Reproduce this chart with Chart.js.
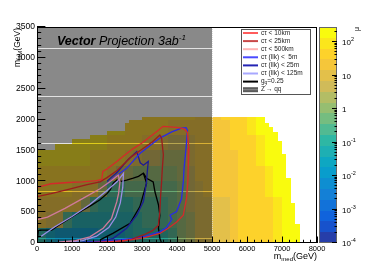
<!DOCTYPE html>
<html>
<head>
<meta charset="utf-8">
<script src="https://cdn.jsdelivr.net/npm/chart.js"></script>
<style>
    html, body { margin: 0; padding: 0; background: #fff; }
    #wrap { width: 374px; height: 270px; }
</style>
</head>
<body>
<div id="wrap"><canvas id="chart" width="374" height="270"></canvas></div>
<script>
// axis ranges
const xRange = [0, 8000];
const yRange = [0, 3500];
const muRange = [1e-4, Math.pow(10, 2.45)];
const zShadeMax = 5000; // Z' -> qq excluded m_med

// heatmap envelope: top of filled bins, one value per 125 GeV of m_med
const colWidth = 125;
const colTop = [
    1500, 1500, 1500, 1500, 1600, 1600, 1600, 1600,
    1680, 1680, 1680, 1680, 1750, 1750, 1750, 1750,
    1820, 1820, 1820, 1820, 1940, 2000, 2000, 2000,
    2040, 2040, 2040, 2040, 2040, 2040, 2040, 2040,
    2040, 2040, 2040, 2040, 2040, 2040, 2040, 2040,
    2040, 2040, 2040, 2040, 2040, 2040, 2040, 2040,
    2040, 2040, 2040, 2040, 1950, 1880, 1800, 1650,
    1450, 1050, 650, 300, 0, 0, 0, 0
];

// log10(mu), cells of 250 x 250 GeV, bottom row first
const cellW = 250, cellH = 250;
const logMu = [
    [-1.0, -1.6, -2.0, -2.0, -1.8, -1.8, -1.8, -1.7, -1.6, -1.5, -1.3, -1.0, -1.0, -0.9, -0.8, -0.5, -0.1, 0.4, 0.9, 1.0, 1.0, 1.1, 1.2, 1.55, 1.6, 1.65, 1.8, 2.1, 2.2, 2.3, 2.3, 2.3],
    [1.2, 1.1, 0.9, -0.6, -1.1, -1.3, -1.3, -1.3, -1.2, -1.2, -1.1, -0.9, -0.7, -0.7, -0.7, -0.4, 0.0, 0.5, 1.0, 1.1, 1.0, 1.1, 1.2, 1.5, 1.6, 1.65, 1.75, 2.1, 2.2, 2.35, 2.3, 2.3],
    [1.3, 1.3, 1.3, 1.3, 1.2, 0.5, -0.6, -0.9, -1.0, -1.0, -0.8, -0.6, -0.5, -0.5, -0.5, -0.3, 0.1, 0.6, 1.1, 1.1, 1.1, 1.15, 1.3, 1.5, 1.6, 1.7, 1.8, 2.1, 2.25, 2.35, 2.3, 2.3],
    [1.5, 1.5, 1.5, 1.5, 1.4, 1.4, 1.2, 0.5, -0.5, -0.6, -0.4, -0.4, -0.3, -0.3, -0.2, -0.2, 0.1, 0.6, 1.1, 1.2, 1.2, 1.2, 1.3, 1.55, 1.65, 1.7, 2.05, 2.2, 2.3, 2.35, 2.3, 2.3],
    [1.8, 1.8, 1.8, 1.8, 1.7, 1.7, 1.6, 1.5, 1.2, 0.7, 0.3, 0.1, 0.1, 0.1, 0.0, 0.0, 0.2, 0.7, 1.2, 1.2, 1.3, 1.3, 1.35, 1.6, 1.65, 1.75, 2.1, 2.25, 2.35, 2.35, 2.3, 2.3],
    [1.9, 1.9, 1.9, 1.9, 1.9, 1.9, 1.8, 1.7, 1.6, 1.5, 1.3, 1.0, 0.7, 0.6, 0.5, 0.4, 0.5, 0.9, 1.2, 1.3, 1.35, 1.35, 1.4, 1.6, 1.7, 2.0, 2.2, 2.3, 2.35, 2.35, 2.35, 2.35],
    [1.9, 1.9, 1.9, 1.9, 1.9, 1.9, 1.85, 1.85, 1.8, 1.8, 1.6, 1.5, 1.4, 1.2, 1.0, 0.8, 0.8, 1.1, 1.3, 1.3, 1.35, 1.4, 1.55, 1.65, 1.7, 2.1, 2.2, 2.3, 2.35, 2.35, 2.35, 2.35],
    [1.9, 1.9, 1.9, 1.9, 1.9, 1.9, 1.85, 1.85, 1.85, 1.85, 1.7, 1.7, 1.7, 1.7, 1.5, 1.4, 1.3, 1.3, 1.3, 1.3, 1.35, 1.45, 1.6, 1.65, 2.0, 2.2, 2.3, 2.35, 2.35, 2.35, 2.35, 2.35],
    [1.9, 1.9, 1.9, 1.9, 1.9, 1.9, 1.9, 1.9, 1.9, 1.9, 1.8, 1.8, 1.8, 1.8, 1.6, 1.6, 1.6, 1.6, 1.4, 1.4, 1.35, 1.5, 1.6, 1.65, 2.1, 2.2, 2.3, 2.35, 2.35, 2.35, 2.35, 2.35]
];

// exclusion contours [m_med, m_DM]
const ctau10km = [[0, 900], [400, 960], [900, 980], [1300, 990], [1700, 1010], [1850, 1030], [1880, 1160], [2000, 1200], [2280, 1320], [2500, 1420], [2750, 1530], [3000, 1620], [3230, 1720], [3450, 1820], [3600, 1890], [3800, 1880], [4050, 1870], [4200, 1850], [4300, 1790], [4340, 1530], [4320, 1200], [4310, 990], [4270, 720], [4180, 450], [3990, 340], [3750, 240], [3510, 155], [3100, 90], [2750, 55], [2300, 30], [1800, 15], [1500, 5]];
const ctau25km = [[0, 750], [400, 800], [900, 870], [1400, 940], [1800, 990], [2000, 1060], [2300, 1180], [2700, 1400], [3000, 1520], [3300, 1640], [3510, 1750], [3560, 1700], [3610, 1430], [3580, 1200], [3560, 990], [3530, 750], [3510, 510], [3470, 290], [3300, 200], [3040, 130], [2700, 60], [2370, 20], [2000, 8]];
const ctau500km = [[0, 380], [300, 420], [800, 560], [1300, 720], [1800, 880], [2100, 1000], [2320, 1100], [2370, 990], [2330, 800], [2280, 670], [2130, 400], [1890, 240], [1510, 100], [1100, 40], [600, 12]];
const llk5m = [[1950, 930], [2180, 1050], [2560, 1210], [2940, 1450], [3230, 1580], [3510, 1700], [3850, 1800], [4130, 1860], [4260, 1870], [4300, 1830], [4260, 1540], [4200, 1200], [4180, 990], [4130, 720], [3990, 510], [3800, 450], [3850, 380], [3700, 250], [3510, 180], [3100, 110], [2750, 75], [2300, 45], [1800, 20], [1300, 8]];
const llk25m = [[2000, 1000], [2300, 1150], [2600, 1350], [2850, 1480], [2950, 1300], [3040, 1260], [3180, 1320], [3150, 1150], [3130, 990], [3040, 670], [2850, 450], [2560, 240], [2180, 75], [1700, 20], [1200, 5]];
const llk125m = [[100, 100], [500, 260], [1000, 430], [1500, 620], [2000, 850], [2300, 1000], [2470, 1130], [2450, 900], [2380, 650], [2250, 420], [2050, 250], [1700, 110], [1300, 40], [800, 10]];
const gq025 = [[0, 0], [40, 200], [86, 210], [420, 210], [600, 280], [850, 370], [1100, 460], [1320, 535], [1550, 610], [1800, 700], [2000, 800], [2090, 860], [2180, 970], [2280, 1020], [2400, 1000], [2560, 1020], [2750, 1050], [2900, 1080], [3040, 1130], [3130, 1050], [3320, 990], [3370, 830], [3470, 620], [3510, 450], [3470, 240], [3510, 75], [3560, 0]];
const gq025Inner = [[3040, 1130], [3130, 970], [2940, 590], [2660, 320], [2180, 160], [1800, 50]];

const muTicks = [-4, -3, -2, -1, 0, 1, 2];

// ---- ROOT kBird palette, 20 contour levels ----
const bird = {
    r: [0.2082, 0.0592, 0.0780, 0.0232, 0.1802, 0.5301, 0.8186, 0.9956, 0.9764],
    g: [0.1664, 0.3599, 0.5041, 0.6419, 0.7178, 0.7492, 0.7328, 0.7862, 0.9832],
    b: [0.5293, 0.8684, 0.8385, 0.7914, 0.6425, 0.4662, 0.3499, 0.1968, 0.0539]
};
const nLevels = 20;

function birdColor(t) {
    t = Math.max(0, Math.min(1, t));
    const i = Math.min(7, Math.floor(t * 8));
    const f = t * 8 - i;
    const c = k => Math.round(255 * (bird[k][i] + f * (bird[k][i + 1] - bird[k][i])));
    return `rgb(${c("r")},${c("g")},${c("b")})`;
}

function levelColor(lv) {
    const lo = Math.log10(muRange[0]), hi = Math.log10(muRange[1]);
    let k = Math.floor((lv - lo) / (hi - lo) * nLevels);
    k = Math.max(0, Math.min(nLevels - 1, k));
    return birdColor((k + 0.99) / nLevels);
}

const FONT = '"Liberation Sans", Arial, Helvetica, sans-serif';

function drawRich(ctx, parts, x, y) {
    parts.forEach(p => {
        ctx.font = p.font;
        ctx.fillText(p.text, x, y + (p.dy || 0));
        x += ctx.measureText(p.text).width;
    });
    return x;
}

function richWidth(ctx, parts) {
    return parts.reduce((w, p) => {
        ctx.font = p.font;
        return w + ctx.measureText(p.text).width;
    }, 0);
}

const rootStyle = {
    id: "rootStyle",
    beforeDatasetsDraw(chart) {
        const {ctx, chartArea: a, scales: {x, y}} = chart;
        ctx.save();
        ctx.beginPath();
        ctx.rect(a.left, a.top, a.right - a.left, a.bottom - a.top);
        ctx.clip();

        // heatmap cells
        colTop.forEach((top, i) => {
            const x0 = i * colWidth, x1 = x0 + colWidth;
            const c = Math.floor(x0 / cellW);
            const px0 = Math.round(x.getPixelForValue(x0));
            const px1 = Math.round(x.getPixelForValue(x1));
            logMu.forEach((row, r) => {
                const y0 = r * cellH, y1 = Math.min(y0 + cellH, top);
                if (y1 <= y0) return;
                const py0 = Math.round(y.getPixelForValue(y0));
                const py1 = Math.round(y.getPixelForValue(y1));
                ctx.fillStyle = levelColor(row[c]);
                ctx.fillRect(px0, py1, px1 - px0, py0 - py1);
            });
        });

        // Z' -> qq shaded box, with the thin light rows of the fill pattern
        const sx0 = Math.round(x.getPixelForValue(xRange[0]));
        const sx1 = Math.round(x.getPixelForValue(zShadeMax));
        const gaps = [3155, 2387, 1620, 843, 76].map(v => Math.round(y.getPixelForValue(v)));
        let yy = Math.floor(a.top);
        ctx.fillStyle = "rgba(20,20,20,0.5)";
        gaps.forEach(g => {
            ctx.fillRect(sx0, yy, sx1 - sx0, g - yy);
            yy = g + 1;
        });
        ctx.fillRect(sx0, yy, sx1 - sx0, Math.ceil(a.bottom) - yy);
        ctx.fillStyle = "rgba(20,20,20,0.12)";
        gaps.forEach(g => ctx.fillRect(sx0, g, sx1 - sx0, 1));

        ctx.strokeStyle = "rgba(215,215,215,0.8)";
        ctx.lineWidth = 1;
        ctx.setLineDash([1, 1]);
        ctx.beginPath();
        ctx.moveTo(sx1 + 0.5, a.top);
        ctx.lineTo(sx1 + 0.5, a.bottom);
        ctx.stroke();
        ctx.restore();
    },

    afterDatasetsDraw(chart) {
        const {ctx, chartArea: a, scales: {x, y, z}} = chart;
        ctx.save();

        // frame
        ctx.strokeStyle = "#000";
        ctx.lineWidth = 1;
        ctx.strokeRect(a.left + 0.5, a.top + 0.5, a.right - a.left - 1, a.bottom - a.top - 1);

        // inward ticks
        const h = a.bottom - a.top, w = a.right - a.left;
        ctx.beginPath();
        for (let v = xRange[0]; v <= xRange[1]; v += 200) {
            const px = Math.round(x.getPixelForValue(v)) + 0.5;
            const len = v % 1000 === 0 ? 0.03 * h : 0.015 * h;
            ctx.moveTo(px, a.bottom);
            ctx.lineTo(px, a.bottom - len);
        }
        for (let v = yRange[0]; v <= yRange[1]; v += 100) {
            const py = Math.round(y.getPixelForValue(v)) - 0.5;
            const len = v % 500 === 0 ? 0.03 * w : 0.015 * w;
            ctx.moveTo(a.left, py);
            ctx.lineTo(a.left + len, py);
        }
        ctx.stroke();

        // title
        ctx.fillStyle = "#000";
        ctx.textBaseline = "alphabetic";
        ctx.textAlign = "left";
        drawRich(ctx, [
            {text: "Vector", font: `italic bold 12.5px ${FONT}`},
            {text: " Projection 3ab", font: `italic 12.5px ${FONT}`},
            {text: "-1", font: `italic 8px ${FONT}`, dy: -5}
        ], 57, 45);

        // colour bar
        const cbL = a.right + 2, cbR = a.right + 20;
        const zPix = v => z ? z.getPixelForValue(v) : a.bottom - (Math.log10(v) + 4) / 6.45 * h;
        const lo = Math.log10(muRange[0]), hi = Math.log10(muRange[1]);
        for (let k = 0; k < nLevels; k++) {
            const v0 = Math.pow(10, lo + (hi - lo) * k / nLevels);
            const v1 = Math.pow(10, lo + (hi - lo) * (k + 1) / nLevels);
            const p0 = Math.round(zPix(v0)), p1 = Math.round(zPix(v1));
            ctx.fillStyle = birdColor((k + 0.99) / nLevels);
            ctx.fillRect(cbL, p1, cbR - cbL, p0 - p1);
        }
        ctx.strokeStyle = "#666";
        ctx.strokeRect(cbL + 0.5, a.top + 0.5, cbR - cbL - 1, h - 1);
        ctx.strokeStyle = "#000";
        ctx.beginPath();
        for (let d = -4; d <= 2; d++) {
            for (let m = 1; m <= 9; m++) {
                const v = m * Math.pow(10, d);
                if (v > muRange[1]) break;
                const py = Math.round(zPix(v)) - 0.5;
                ctx.moveTo(cbR, py);
                ctx.lineTo(cbR - (m === 1 ? 5 : 2.5), py);
            }
        }
        ctx.stroke();
        ctx.fillStyle = "#000";
        muTicks.forEach(d => {
            const py = zPix(Math.pow(10, d)) + 3;
            const parts = d === 0 ? [{text: "1", font: `8px ${FONT}`}]
                : d === 1 ? [{text: "10", font: `8px ${FONT}`}]
                : [{text: "10", font: `8px ${FONT}`}, {text: String(d), font: `5.5px ${FONT}`, dy: -4}];
            drawRich(ctx, parts, cbR + 5, py);
        });

        // mu title
        ctx.save();
        ctx.translate(359, a.top);
        ctx.rotate(-Math.PI / 2);
        ctx.textAlign = "right";
        ctx.font = `7px ${FONT}`;
        ctx.fillText("μ", 0, 0);
        ctx.restore();

        // axis titles
        const xt = [
            {text: "m", font: `9px ${FONT}`},
            {text: "med", font: `6px ${FONT}`, dy: 2},
            {text: "(GeV)", font: `9px ${FONT}`}
        ];
        drawRich(ctx, xt, a.right - richWidth(ctx, xt), 258.5);

        const yt = [
            {text: "m", font: `8.5px ${FONT}`},
            {text: "DM", font: `6px ${FONT}`, dy: 2},
            {text: "(GeV)", font: `8.5px ${FONT}`}
        ];
        ctx.save();
        ctx.translate(20, a.top + 1);
        ctx.rotate(-Math.PI / 2);
        drawRich(ctx, yt, -richWidth(ctx, yt), 0);
        ctx.restore();

        // legend
        const lx = 241, ly = 29, lw = 70, lh = 66;
        ctx.fillStyle = "#fff";
        ctx.fillRect(lx, ly, lw, lh);
        ctx.strokeStyle = "#555";
        ctx.strokeRect(lx + 0.5, ly + 0.5, lw - 1, lh - 1);
        const entries = chart.data.datasets.filter(ds => ds.label);
        const rowH = 8.1;
        ctx.textBaseline = "middle";
        entries.forEach((ds, i) => {
            const cy = ly + 4 + i * rowH;
            ctx.strokeStyle = ds.legendColor;
            ctx.lineWidth = 2;
            ctx.beginPath();
            ctx.moveTo(lx + 2, cy);
            ctx.lineTo(lx + 17, cy);
            ctx.stroke();
            ctx.fillStyle = "#222";
            if (ds.label === "g_q=0.25") {
                drawRich(ctx, [
                    {text: "g", font: `6.5px ${FONT}`},
                    {text: "q", font: `4.8px ${FONT}`, dy: 1.5},
                    {text: "=0.25", font: `6.5px ${FONT}`}
                ], lx + 20, cy);
            } else {
                ctx.font = `6.5px ${FONT}`;
                ctx.fillText(ds.label, lx + 20, cy);
            }
        });
        const zy = ly + 4 + entries.length * rowH;
        ctx.fillStyle = "#5a5a5a";
        ctx.fillRect(lx + 2, zy - 2.5, 15, 5);
        ctx.fillStyle = "#8a8a8a";
        ctx.fillRect(lx + 2, zy - 0.5, 15, 1);
        ctx.fillStyle = "#222";
        drawRich(ctx, [
            {text: "Z", font: `6.5px ${FONT}`},
            {text: "'", font: `5px ${FONT}`, dy: -2},
            {text: "→ qq", font: `6.5px ${FONT}`}
        ], lx + 20, zy);

        ctx.restore();
    }
};

const toPts = arr => arr.map(([mx, my]) => ({x: mx, y: my}));

const lineSet = (label, pts, color, legendColor) => ({
    label,
    data: toPts(pts),
    borderColor: color,
    legendColor,
    borderWidth: 1.3,
    showLine: true,
    pointRadius: 0,
    fill: false,
    tension: 0
});

new Chart(document.getElementById("chart"), {
    type: "scatter",
    data: {
        datasets: [
            lineSet("cτ < 10km", ctau10km, "#d42a2a", "#ff5c5c"),
            lineSet("cτ < 25km", ctau25km, "#9c1c1c", "#c84848"),
            lineSet("cτ < 500km", ctau500km, "#d07a9a", "#ffb4b4"),
            lineSet("cτ (llk) <  5m", llk5m, "#2a2ae6", "#4a4aff"),
            lineSet("cτ (llk) < 25m", llk25m, "#1c1c96", "#2424b4"),
            lineSet("cτ (llk) < 125m", llk125m, "#9a8ee6", "#a8a8ff"),
            lineSet("g_q=0.25", gq025, "#000", "#000"),
            lineSet("", gq025Inner, "#000", "#000")
        ]
    },
    options: {
        responsive: false,
        animation: false,
        devicePixelRatio: 1,
        events: [],
        layout: {padding: {top: 27, right: 57, left: 0, bottom: 0}},
        plugins: {legend: {display: false}, tooltip: {enabled: false}},
        scales: {
            x: {
                type: "linear",
                min: xRange[0],
                max: xRange[1],
                grid: {display: false, drawTicks: false},
                border: {display: false},
                ticks: {
                    stepSize: 1000,
                    autoSkip: false,
                    maxRotation: 0,
                    padding: 1,
                    color: "#000",
                    font: {family: FONT, size: 7.5},
                    callback: v => String(v)
                },
                afterFit: s => { s.height = 27; }
            },
            y: {
                type: "linear",
                min: yRange[0],
                max: yRange[1],
                grid: {display: false, drawTicks: false},
                border: {display: false},
                ticks: {
                    stepSize: 500,
                    autoSkip: false,
                    padding: 2,
                    color: "#000",
                    font: {family: FONT, size: 8.5},
                    callback: v => String(v)
                },
                afterFit: s => { s.width = 37; }
            },
            z: {
                type: "logarithmic",
                position: "right",
                display: false,
                min: muRange[0],
                max: muRange[1]
            }
        }
    },
    plugins: [rootStyle]
});
</script>
</body>
</html>
